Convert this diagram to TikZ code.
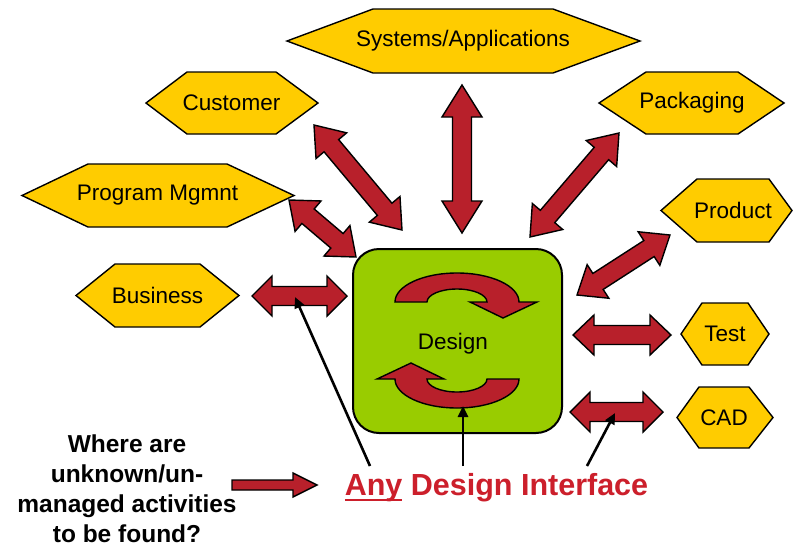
\documentclass[tikz,border=0pt]{standalone}
\usepackage{fontspec}
\setmainfont{Liberation Sans}
\usetikzlibrary{calc,arrows.meta}

\definecolor{hexyellow}{HTML}{FFCC00}
\definecolor{designgreen}{HTML}{99CC00}
\definecolor{arrowred}{HTML}{B8202B}
\definecolor{textred}{HTML}{CC1F2B}

% half widths of the double block arrows
\newcommand{\headhalf}{20pt}
\newcommand{\shafthalf}{9.5pt}

% hexagon: name, left tip x, flat left x, flat right x, right tip x, top y, bottom y, label
\newcommand{\hexnode}[8]{%
  \draw[hexshape] (#2,{(#6+#7)/2}) -- (#3,#6) -- (#4,#6) -- (#5,{(#6+#7)/2})
    -- (#4,#7) -- (#3,#7) -- cycle;
  \node[hexlabel] (#1) at ({(#3+#4)/2},{(#6+#7)/2}) {#8};
}

% double-headed block arrow between two named coordinates, head length
\newcommand{\blockarrow}[3]{%
  \filldraw[blockarrowstyle]
    (#1)
    -- ($(#1)!#3!(#2)!\headhalf!90:(#2)$)
    -- ($(#1)!#3!(#2)!\shafthalf!90:(#2)$)
    -- ($(#2)!#3!(#1)!\shafthalf!-90:(#1)$)
    -- ($(#2)!#3!(#1)!\headhalf!-90:(#1)$)
    -- (#2)
    -- ($(#2)!#3!(#1)!\headhalf!90:(#1)$)
    -- ($(#2)!#3!(#1)!\shafthalf!90:(#1)$)
    -- ($(#1)!#3!(#2)!\shafthalf!-90:(#2)$)
    -- ($(#1)!#3!(#2)!\headhalf!-90:(#2)$)
    -- cycle;
}

% half of the circular process arrow inside the design box
\newcommand{\turnarrow}{%
  \filldraw[blockarrowstyle]
    (395,302) arc[start angle=180, end angle=0, x radius=62pt, y radius=29pt]
    -- (537,302) -- (503,318) -- (470,302) -- (487,302)
    arc[start angle=0, end angle=180, x radius=30pt, y radius=13pt]
    -- cycle;
}

\tikzset{
  hexshape/.style={fill=hexyellow, draw=black, line width=1.4pt, line join=miter},
  hexlabel/.style={font=\fontsize{22.5}{27}\selectfont, text=black, inner sep=0pt},
  blockarrowstyle/.style={fill=arrowred, draw=black, line width=1.4pt, line join=miter},
  designbox/.style={fill=designgreen, draw=black, line width=2pt, rounded corners=26pt,
    minimum width=209pt, minimum height=184pt, inner sep=0pt},
  pointer/.style={draw=black, line width=2.6pt, -{Triangle[length=11pt,width=10pt]}},
}

\begin{document}
\begin{tikzpicture}[x=1pt, y=-1pt]
  \useasboundingbox (0,0) rectangle (793,547);
  \fill[white] (0,0) rectangle (793,547);

  % surrounding disciplines
  \hexnode{sys}{287}{373}{553}{640}{9}{73}{Systems/Applications}
  \hexnode{cust}{146}{187}{276}{318}{72}{134}{Customer}
  \hexnode{prog}{22}{88}{227}{294}{164}{227}{Program Mgmnt}
  \hexnode{bus}{76}{115}{200}{239}{264}{327}{Business}
  \hexnode{pack}{599}{646}{738}{784}{72}{134}{Packaging}
  \hexnode{prod}{661}{697}{769}{792}{179}{242}{Product}
  \hexnode{test}{681}{702}{748}{769}{303}{365}{Test}
  \hexnode{cad}{677}{699}{749}{773}{387}{448}{CAD}

  % central design activity
  \node[designbox] (design) at (457.5,341) {};
  \node[hexlabel] (designlbl) at (453,344) {Design};
  \turnarrow
  \begin{scope}[rotate around={180:(457,340.5)}]
    \turnarrow
  \end{scope}

  % interface arrow end points
  \coordinate (sys-a) at (462,85);   \coordinate (sys-b) at (462,233);
  \coordinate (cust-a) at (314,125); \coordinate (cust-b) at (402,230);
  \coordinate (prog-a) at (289,200); \coordinate (prog-b) at (356,257);
  \coordinate (bus-a) at (252,296);  \coordinate (bus-b) at (347,296);
  \coordinate (pack-a) at (619,133); \coordinate (pack-b) at (530,237);
  \coordinate (prod-a) at (670,235); \coordinate (prod-b) at (577,295);
  \coordinate (test-a) at (573,335); \coordinate (test-b) at (671,335);
  \coordinate (cad-a) at (570,412);  \coordinate (cad-b) at (663,412);

  \blockarrow{sys-a}{sys-b}{32pt}
  \blockarrow{cust-a}{cust-b}{27pt}
  \blockarrow{prog-a}{prog-b}{25pt}
  \blockarrow{bus-a}{bus-b}{20pt}
  \blockarrow{pack-a}{pack-b}{27pt}
  \blockarrow{prod-a}{prod-b}{25pt}
  \blockarrow{test-a}{test-b}{21pt}
  \blockarrow{cad-a}{cad-b}{20pt}

  % question and its arrow
  \node[font=\fontsize{24.5}{30}\selectfont\bfseries, align=center, anchor=base,
        inner sep=0pt] (question) at (127,542)
    {Where are\\unknown/un-\\managed activities\\to be found?};
  \coordinate (q-tail) at (232,485);
  \coordinate (q-tip) at (317,485);
  \filldraw[blockarrowstyle]
    (q-tail) -- ($(q-tail)!5pt!90:(q-tip)$)
    -- ($(q-tip)!24pt!(q-tail)!5pt!-90:(q-tail)$)
    -- ($(q-tip)!24pt!(q-tail)!12pt!-90:(q-tail)$)
    -- (q-tip)
    -- ($(q-tip)!24pt!(q-tail)!12pt!90:(q-tail)$)
    -- ($(q-tip)!24pt!(q-tail)!5pt!90:(q-tail)$)
    -- ($(q-tail)!5pt!-90:(q-tip)$) -- cycle;

  % answer
  \node[font=\fontsize{30.5}{36}\selectfont\bfseries, text=textred, anchor=base,
        inner sep=0pt] (adi) at (496.5,495)
    {\setbox0\hbox{Any}\rlap{\color{textred}\rule[-6pt]{\wd0}{2.4pt}}Any Design Interface};

  % pointers from the answer to the interfaces
  \coordinate (adi-l) at (370,466);
  \coordinate (adi-m) at (463,466);
  \coordinate (adi-r) at (587,466);
  \coordinate (bus-mid) at (295,297);
  \coordinate (loop-low) at (463,406);
  \coordinate (cad-mid) at (615,413);
  \draw[pointer] (adi-l) -- (bus-mid);
  \draw[pointer] (adi-m) -- (loop-low);
  \draw[pointer] (adi-r) -- (cad-mid);
\end{tikzpicture}
\end{document}
